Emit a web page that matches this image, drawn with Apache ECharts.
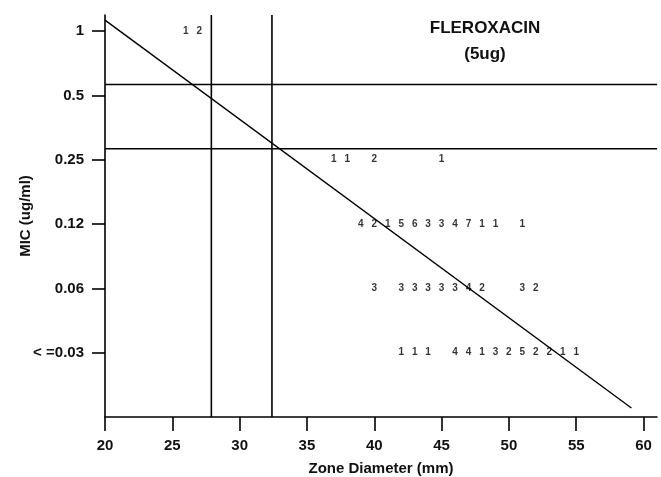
<!DOCTYPE html>
<html>
<head>
<meta charset="utf-8">
<script src="https://cdn.jsdelivr.net/npm/echarts@6/dist/echarts.min.js"></script>
<style>html,body{margin:0;padding:0;background:#fff}#c{width:661px;height:477px}</style>
</head>
<body>
<div id="c"></div>
<script>
// MIC levels (y position index -> label)
var micLabels = ['', '< =0.03', '0.06', '0.12', '0.25', '0.5', '1'];
var xTicks = [20, 25, 30, 35, 40, 45, 50, 55, 60];
// counts per row: [zone diameter, count]
var row1 = [[26, 1], [27, 2]];
var row025 = [[37, 1], [38, 1], [40, 2], [45, 1]];
var row012 = [[39, 4], [40, 2], [41, 1], [42, 5], [43, 6], [44, 3], [45, 3], [46, 4], [47, 7], [48, 1], [49, 1], [51, 1]];
var row006 = [[40, 3], [42, 3], [43, 3], [44, 3], [45, 3], [46, 3], [47, 4], [48, 2], [51, 3], [52, 2]];
var row003 = [[42, 1], [43, 1], [44, 1], [46, 4], [47, 4], [48, 1], [49, 3], [50, 2], [51, 5], [52, 2], [53, 2], [54, 1], [55, 1]];
// reference lines
var regression = [[20, 6.17], [59.1, 0.14]];
var vLine1 = [[27.9, 0], [27.9, 6.25]];
var vLine2 = [[32.4, 0], [32.4, 6.25]];
var hLine1 = [[20, 5.17], [61, 5.17]];
var hLine2 = [[20, 4.17], [61, 4.17]];

var rows = [[6, row1], [4, row025], [3, row012], [2, row006], [1, row003]];
var pts = [];
rows.forEach(function (r) {
  r[1].forEach(function (p) { pts.push([p[0], r[0], p[1]]); });
});

var FONT = 'Liberation Sans, Arial, sans-serif';
function lineSeries(d, w) {
  return { type: 'line', data: d, symbol: 'none', silent: true,
    lineStyle: { color: '#000', width: w }, z: 3 };
}
var chart = echarts.init(document.getElementById('c'), null, { renderer: 'canvas' });
chart.setOption({
  animation: false,
  backgroundColor: '#fff',
  title: {
    text: 'FLEROXACIN\n(5ug)', left: 480, top: 10, textAlign: 'center',
    textStyle: { fontFamily: FONT, fontSize: 17, fontWeight: 'bold', color: '#111', lineHeight: 26 }
  },
  grid: { left: 105, right: 4, top: 15, bottom: 60, containLabel: false, outerBoundsMode: 'none' },
  xAxis: {
    type: 'value', min: 20, max: 61, interval: 5,
    name: 'Zone Diameter (mm)', nameLocation: 'middle', nameGap: 44, nameMoveOverlap: false,
    nameTextStyle: { fontFamily: FONT, fontSize: 15, fontWeight: 'bold', color: '#111' },
    axisLine: { show: true, lineStyle: { color: '#000', width: 1.6 } },
    axisTick: { show: true, length: 14, inside: false, customValues: xTicks, lineStyle: { color: '#000', width: 1.6 } },
    axisLabel: { customValues: xTicks, margin: 21, fontFamily: FONT, fontSize: 15, fontWeight: 'bold', color: '#111' },
    splitLine: { show: false }
  },
  yAxis: {
    type: 'value', min: 0, max: 6.25, interval: 1,
    name: 'MIC (ug/ml)', nameLocation: 'middle', nameGap: 72, nameMoveOverlap: false,
    nameTextStyle: { fontFamily: FONT, fontSize: 15, fontWeight: 'bold', color: '#111' },
    axisLine: { show: true, lineStyle: { color: '#000', width: 1.6 } },
    axisTick: { show: true, length: 13, customValues: [1, 2, 3, 4, 5, 6], lineStyle: { color: '#000', width: 1.6 } },
    axisLabel: { customValues: [1, 2, 3, 4, 5, 6], margin: 21, fontFamily: FONT, fontSize: 15, fontWeight: 'bold', color: '#111',
      formatter: function (v) { return micLabels[Math.round(v)] || ''; } },
    splitLine: { show: false }
  },
  series: [
    lineSeries(regression, 1.4),
    lineSeries(vLine1, 1.6),
    lineSeries(vLine2, 1.6),
    lineSeries(hLine1, 1.6),
    lineSeries(hLine2, 1.6),
    {
      type: 'scatter', data: pts, symbolSize: 1, itemStyle: { color: 'rgba(0,0,0,0)' }, z: 4,
      label: { show: true, position: 'inside', formatter: function (p) { return p.value[2]; },
        fontFamily: FONT, fontSize: 10, fontWeight: 'bold', color: '#000' }
    }
  ]
});
</script>
</body>
</html>
